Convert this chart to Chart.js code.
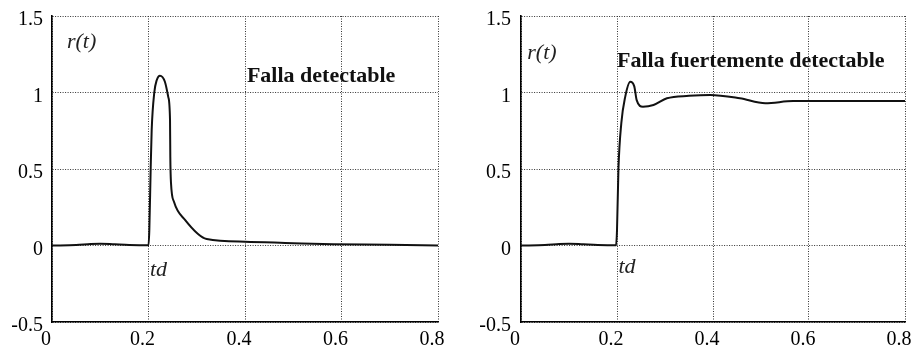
<!DOCTYPE html>
<html>
<head>
<meta charset="utf-8">
<script src="https://cdn.jsdelivr.net/npm/chart.js@4.4.1/dist/chart.umd.min.js"></script>
<style>
  html, body { margin: 0; padding: 0; background: #fff; }
  #wrap { position: relative; width: 912px; height: 346px; overflow: hidden; }
  canvas { position: absolute; top: 0; }
  #c1 { left: 0; }
  #c2 { left: 455px; }
</style>
</head>
<body>
<div id="wrap">
  <canvas id="c1" width="455" height="346"></canvas>
  <canvas id="c2" width="457" height="346"></canvas>
</div>
<script>
// ---- data ----
const leftTime  = [0, 0.05, 0.08, 0.1, 0.13, 0.16, 0.2, 0.2017, 0.2045, 0.2066, 0.212, 0.217, 0.2238, 0.234, 0.241, 0.2446, 0.2452, 0.2466, 0.2528, 0.2757, 0.3206, 0.4, 0.5, 0.583, 0.7, 0.8];
const leftR     = [0, 0.003, 0.01, 0.012, 0.008, 0.004, 0.002, 0.1, 0.5, 0.755, 1.0, 1.08, 1.11, 1.07, 0.97, 0.82, 0.58, 0.41, 0.286, 0.167, 0.042, 0.025, 0.015, 0.008, 0.005, 0];

const rightTime = [0, 0.05, 0.08, 0.1, 0.13, 0.16, 0.198, 0.2, 0.203, 0.209, 0.217, 0.2275, 0.236, 0.241, 0.254, 0.276, 0.304, 0.35, 0.394, 0.456, 0.509, 0.567, 0.65, 0.8];
const rightR    = [0, 0.003, 0.01, 0.012, 0.008, 0.004, 0.002, 0.1, 0.5, 0.8, 0.97, 1.07, 1.04, 0.95, 0.907, 0.918, 0.962, 0.978, 0.984, 0.962, 0.93, 0.944, 0.944, 0.944];

const xTicks = [0, 0.2, 0.4, 0.6, 0.8];
const yTicks = [-0.5, 0, 0.5, 1, 1.5];

const leftTitle  = "Falla detectable";
const rightTitle = "Falla fuertemente detectable";
const yLabel = "r(t)";
const tdLabel = "td";

// ---- helpers ----
const serif = "'Liberation Serif', 'Times New Roman', Times, serif";

const textPlugin = {
  id: 'texts',
  afterDatasetsDraw(chart, args, opts) {
    const ctx = chart.ctx;
    const xs = chart.scales.x, ys = chart.scales.y;
    ctx.save();
    ctx.textAlign = 'left';
    ctx.textBaseline = 'middle';
    (opts.items || []).forEach(it => {
      ctx.font = it.font;
      ctx.fillStyle = it.color || '#000';
      ctx.fillText(it.text, xs.getPixelForValue(it.x), ys.getPixelForValue(it.y));
    });
    ctx.restore();
  }
};

function makeChart(id, times, values, yAxisWidth, rightPad, yTickPad, items) {
  const pts = times.map((t, i) => ({ x: t, y: values[i] }));
  return new Chart(document.getElementById(id), {
    type: 'line',
    data: {
      datasets: [{
        data: pts,
        borderColor: '#111',
        borderWidth: 2,
        pointRadius: 0,
        fill: false,
        cubicInterpolationMode: 'monotone'
      }]
    },
    options: {
      responsive: false,
      animation: false,
      devicePixelRatio: 1,
      layout: { padding: { top: 16, right: rightPad, left: 0, bottom: 0 } },
      plugins: {
        legend: { display: false },
        tooltip: { enabled: false },
        texts: { items }
      },
      scales: {
        x: {
          type: 'linear',
          min: 0, max: 0.8,
          afterBuildTicks: s => { s.ticks = xTicks.map(v => ({ value: v })); },
          afterFit: s => { s.height = 24; s.paddingLeft = 0; s.paddingRight = 0; },
          grid: { color: '#333', lineWidth: 1, drawTicks: false },
          border: { display: true, color: '#000', width: 1.6, dash: [1, 1.5] },
          ticks: {
            color: '#000',
            font: { family: serif, size: 20 },
            padding: 6,
            labelOffset: -6,
            maxRotation: 0,
            autoSkip: false,
            callback: v => String(v)
          }
        },
        y: {
          type: 'linear',
          min: -0.5, max: 1.5,
          afterBuildTicks: s => { s.ticks = yTicks.map(v => ({ value: v })); },
          afterFit: s => { s.width = yAxisWidth; s.paddingTop = 0; s.paddingBottom = 0; },
          grid: { color: '#333', lineWidth: 1, drawTicks: false },
          border: { display: true, color: '#000', width: 1.6, dash: [1, 1.5] },
          ticks: {
            color: '#000',
            font: { family: serif, size: 20 },
            padding: yTickPad,
            labelOffset: 4,
            autoSkip: false,
            callback: v => String(v)
          }
        }
      }
    },
    plugins: [textPlugin]
  });
}

makeChart('c1', leftTime, leftR, 52, 17, 9, [
  { text: yLabel, x: 0.031, y: 1.33, font: `italic 22px ${serif}`, color: '#222' },
  { text: leftTitle, x: 0.404, y: 1.108, font: `bold 22px ${serif}`, color: '#111' },
  { text: tdLabel, x: 0.203, y: -0.16, font: `italic 22px ${serif}`, color: '#222' }
]);

makeChart('c2', rightTime, rightR, 66, 7, 10, [
  { text: yLabel, x: 0.013, y: 1.258, font: `italic 22px ${serif}`, color: '#222' },
  { text: rightTitle, x: 0.2, y: 1.206, font: `bold 22px ${serif}`, color: '#111' },
  { text: tdLabel, x: 0.203, y: -0.14, font: `italic 22px ${serif}`, color: '#222' }
]);
</script>
</body>
</html>
